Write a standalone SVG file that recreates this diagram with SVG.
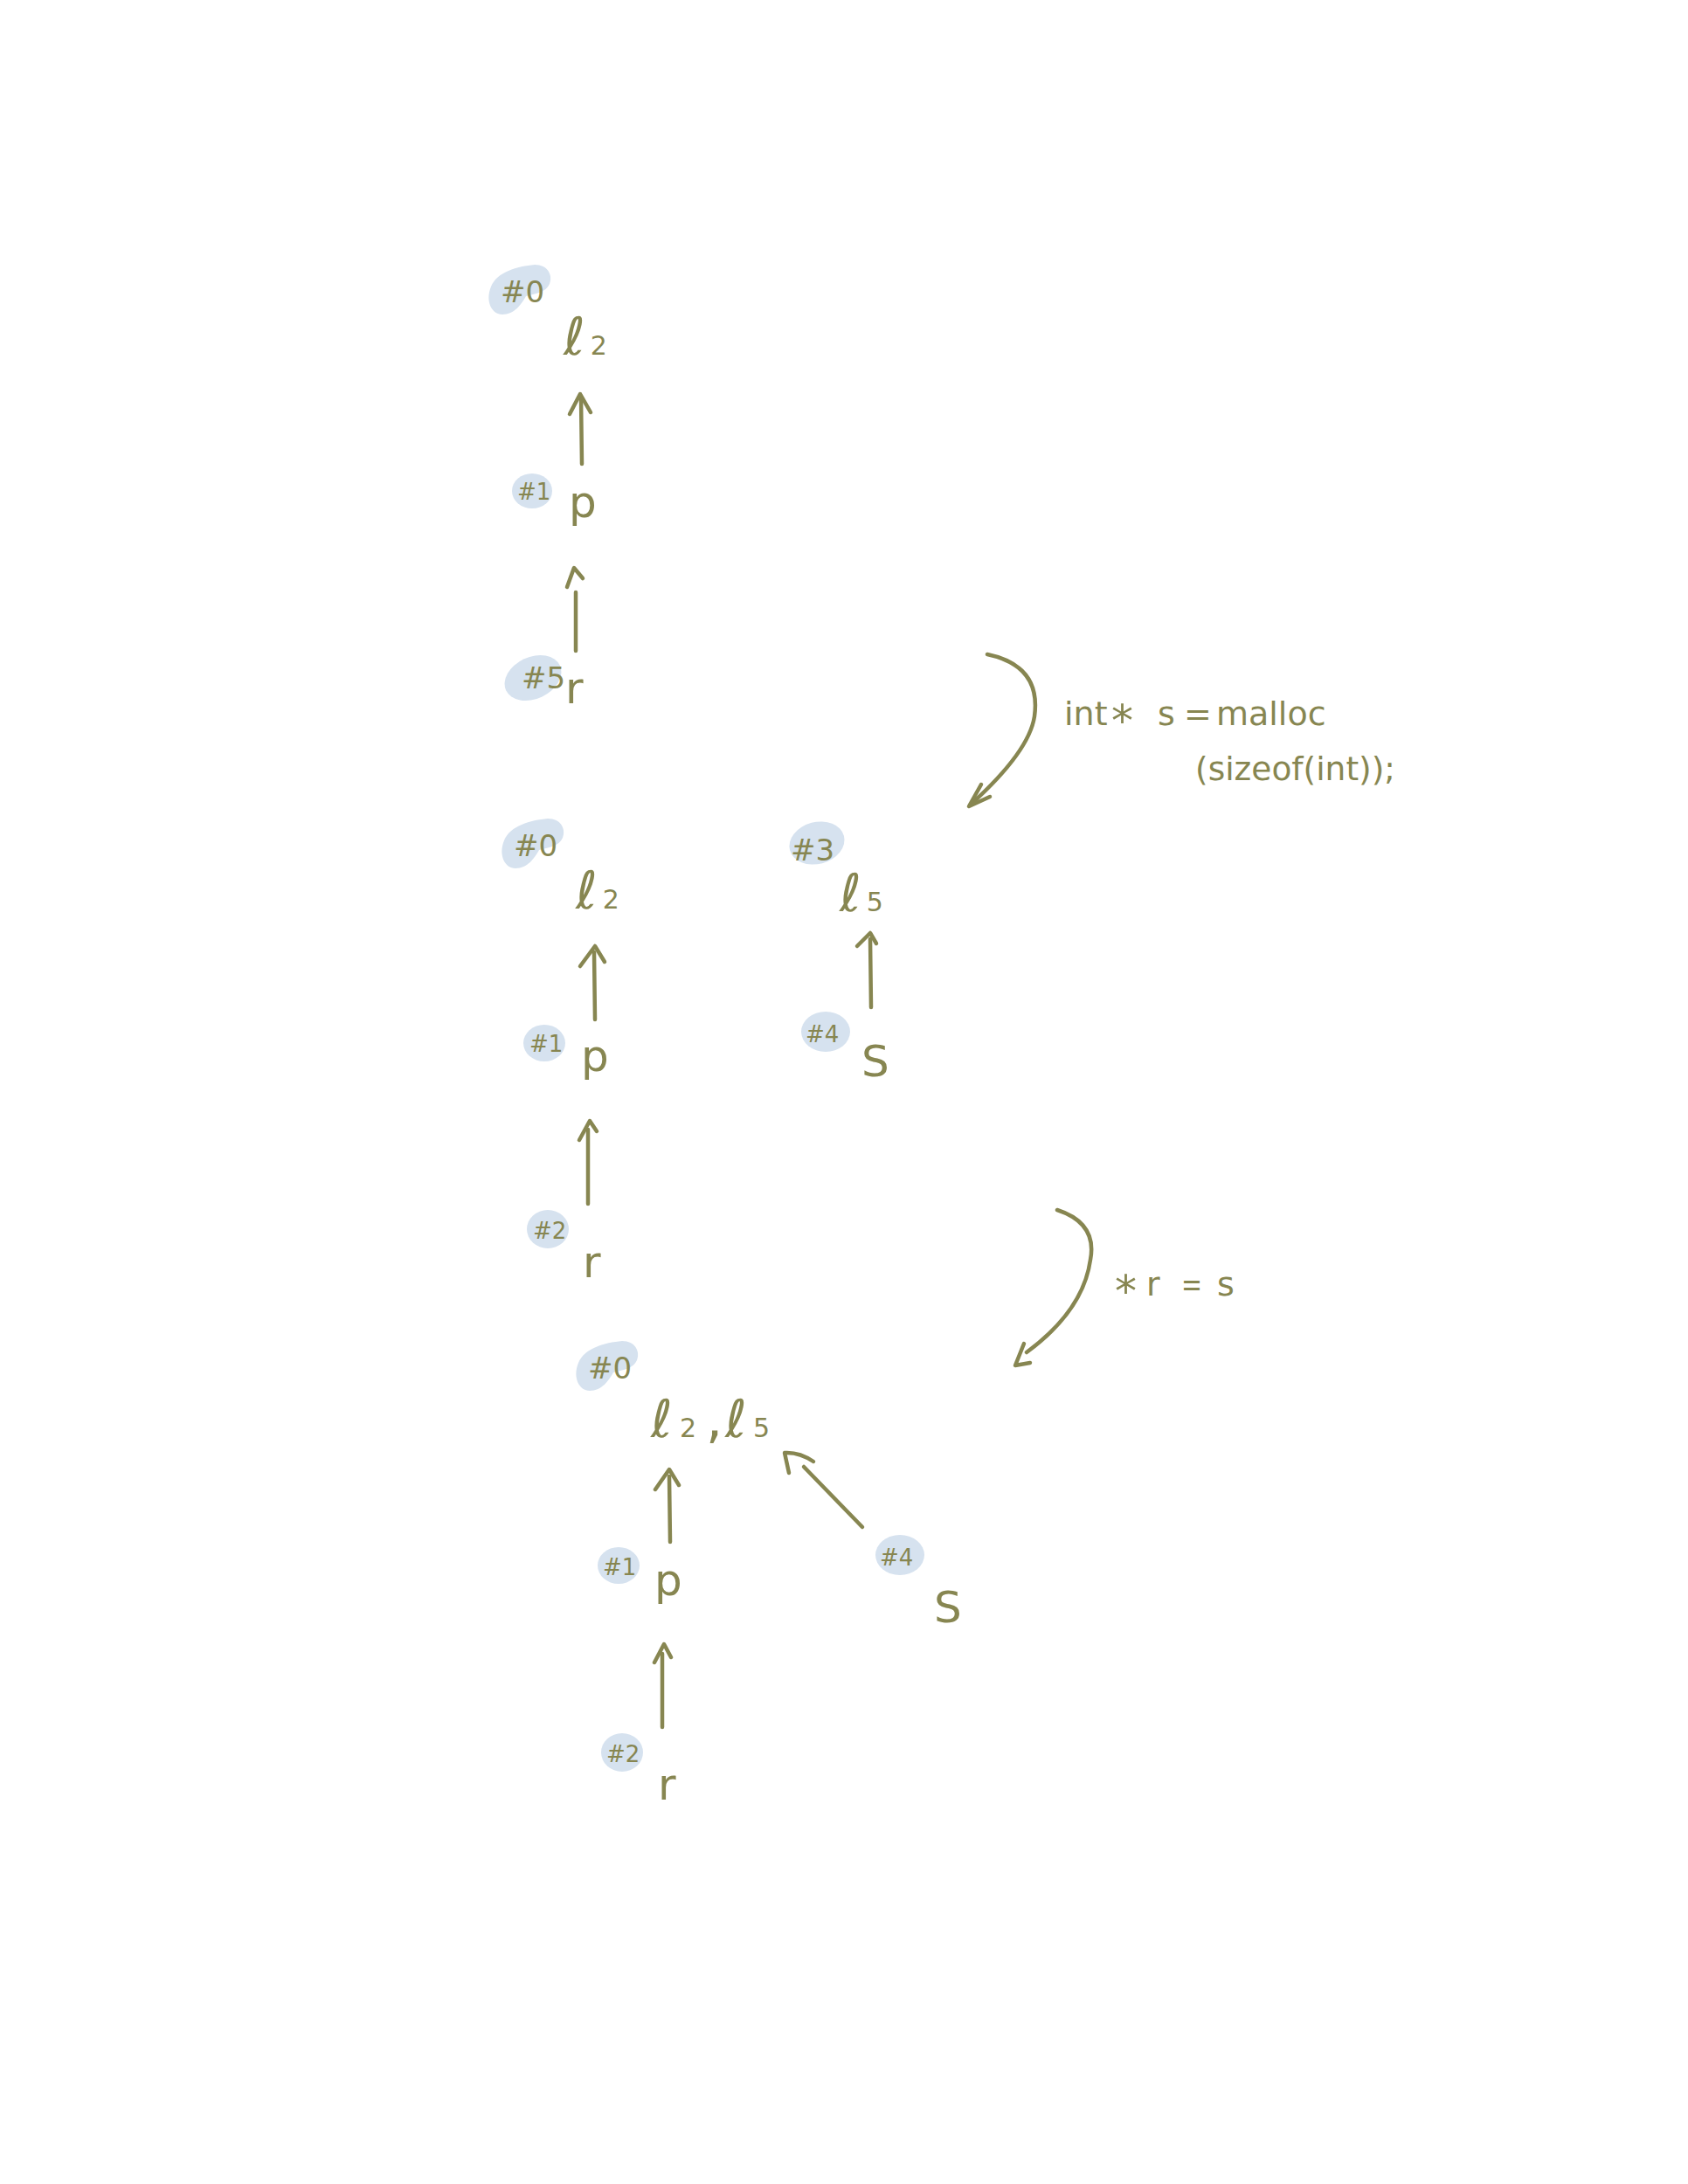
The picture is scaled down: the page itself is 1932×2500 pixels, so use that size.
<svg xmlns="http://www.w3.org/2000/svg" width="1932" height="2500" viewBox="0 0 1932 2500">
<style>
.ink{fill:#878651;font-family:"DejaVu Sans","Liberation Sans",sans-serif}
.ln{fill:none;stroke:#878651;stroke-width:4.5;stroke-linecap:round;stroke-linejoin:round}
.blob{fill:#d6e2ef}
.lbl{font-size:26px}
.big{font-size:34px}
.var{font-size:50px}
.ell{font-size:60px}
.sub{font-size:30px}
.code{font-size:38px}
.ast{font-size:50px}
</style>
<defs>
<path id="bean" d="M5,25 C12,8 35,2 55,0 C70,0 76,12 72,22 C68,32 55,33 45,36 C40,45 32,57 18,57 C6,57 -2,42 5,25Z"/>
</defs>
<rect width="1932" height="2500" fill="#ffffff"/>

<g id="connectors">
<path class="ln" d="M666,531 L665,455"/><path class="ln" d="M652,474 L664,451 L676,472"/>
<path class="ln" d="M659,745 L659,678"/><path class="ln" d="M649,672 L657,650 L667,662"/>
<path class="ln" d="M1130,749 Q1192,762 1184,820 Q1178,860 1112,920"/><path class="ln" d="M1123,898 L1109,923 L1133,912"/>
<path class="ln" d="M681,1167 L680,1090"/><path class="ln" d="M664,1106 L681,1083 L692,1101"/>
<path class="ln" d="M673,1378 L673,1293"/><path class="ln" d="M663,1305 L675,1283 L683,1295"/>
<path class="ln" d="M997,1153 L996,1075"/><path class="ln" d="M981,1083 L996,1068 L1003,1080"/>
<path class="ln" d="M1210,1385 Q1256,1400 1248,1442 Q1240,1500 1175,1548"/><path class="ln" d="M1172,1538 L1162,1563 L1179,1560"/>
<path class="ln" d="M767,1765 L766,1690"/><path class="ln" d="M750,1705 L766,1682 L777,1700"/>
<path class="ln" d="M987,1748 L920,1679"/><path class="ln" d="M903,1686 L898,1663 Q915,1662 931,1673"/>
<path class="ln" d="M758,1977 L758,1893"/><path class="ln" d="M749,1903 L760,1882 L768,1897"/>
</g>

<g id="d1-n0">
<use href="#bean" class="blob" transform="translate(557,303)"/>
<text class="ink big" x="573" y="346">#0</text>
<text class="ink ell" x="645" y="406">ℓ<tspan class="sub" dx="6">2</tspan></text>
</g>
<g id="d1-n1">
<ellipse class="blob" cx="609" cy="562" rx="23" ry="20"/>
<text class="ink lbl" x="592" y="572">#1</text>
<text class="ink var" x="651" y="592">p</text>
</g>
<g id="d1-n5">
<ellipse class="blob" cx="610" cy="776" rx="34" ry="24" transform="rotate(-25 610 776)"/>
<text class="ink big" x="597" y="788">#5</text>
<text class="ink var" x="647" y="805">r</text>
</g>
<g id="step1">
<text class="ink code" y="830"><tspan x="1218">int</tspan><tspan class="ast" x="1272" dy="12">*</tspan><tspan x="1325" dy="-12">s</tspan><tspan x="1355">=</tspan><tspan x="1392">malloc</tspan></text>
<text class="ink code" x="1368" y="893" textLength="229" lengthAdjust="spacingAndGlyphs">(sizeof(int));</text>
</g>

<g id="d2-n0">
<use href="#bean" class="blob" transform="translate(572,937)"/>
<text class="ink big" x="588" y="980">#0</text>
<text class="ink ell" x="659" y="1040">ℓ<tspan class="sub" dx="6">2</tspan></text>
</g>
<g id="d2-n1">
<ellipse class="blob" cx="623" cy="1194" rx="24" ry="21"/>
<text class="ink lbl" x="606" y="1204">#1</text>
<text class="ink var" x="665" y="1226">p</text>
</g>
<g id="d2-n2">
<ellipse class="blob" cx="627" cy="1407" rx="24" ry="22"/>
<text class="ink lbl" x="610" y="1418">#2</text>
<text class="ink var" x="667" y="1462">r</text>
</g>
<g id="d2-n3">
<ellipse class="blob" cx="935" cy="965" rx="32" ry="24" transform="rotate(-15 935 965)"/>
<text class="ink big" x="905" y="985">#3</text>
<text class="ink ell" x="961" y="1043">ℓ<tspan class="sub" dx="6">5</tspan></text>
</g>
<g id="d2-n4">
<ellipse class="blob" cx="945" cy="1181" rx="28" ry="23"/>
<text class="ink lbl" x="922" y="1193">#4</text>
<text class="ink var" x="986" y="1232">S</text>
</g>
<g id="step2">
<text class="ink code" y="1483"><tspan class="ast" x="1276" dy="12">*</tspan><tspan x="1312" dy="-12">r</tspan><tspan x="1352" textLength="24" lengthAdjust="spacingAndGlyphs">=</tspan><tspan x="1393">s</tspan></text>
</g>

<g id="d3-n0">
<use href="#bean" class="blob" transform="translate(657,1535)"/>
<text class="ink big" x="673" y="1578">#0</text>
<text class="ink ell" y="1645"><tspan x="745">ℓ</tspan><tspan class="sub" x="778">2</tspan><tspan x="808">,</tspan><tspan x="830">ℓ</tspan><tspan class="sub" x="862">5</tspan></text>
</g>
<g id="d3-n1">
<ellipse class="blob" cx="708" cy="1792" rx="24" ry="21"/>
<text class="ink lbl" x="690" y="1803">#1</text>
<text class="ink var" x="749" y="1826">p</text>
</g>
<g id="d3-n2">
<ellipse class="blob" cx="712" cy="2006" rx="24" ry="22"/>
<text class="ink lbl" x="694" y="2017">#2</text>
<text class="ink var" x="753" y="2060">r</text>
</g>
<g id="d3-n4">
<ellipse class="blob" cx="1030" cy="1780" rx="28" ry="23"/>
<text class="ink lbl" x="1007" y="1792">#4</text>
<text class="ink var" x="1069" y="1857">S</text>
</g>
</svg>
